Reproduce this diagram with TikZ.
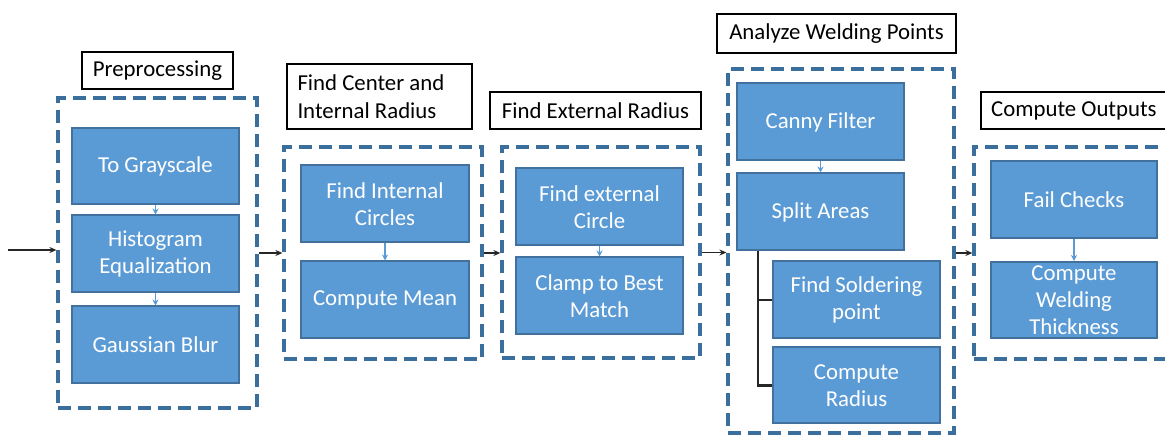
\documentclass[tikz,border=0pt]{standalone}
\usepackage{fontspec}
\setmainfont{Carlito}
\usetikzlibrary{arrows.meta}
\definecolor{boxfill}{HTML}{5B9BD5}
\definecolor{boxline}{HTML}{41719C}
\definecolor{dashline}{HTML}{3A6E9C}
\tikzset{
  blk/.style={draw=boxline, line width=2pt, fill=boxfill, text=white, align=center,
    font=\fontsize{22.8}{27}\selectfont, inner sep=0pt},
  grp/.style={draw=dashline, line width=3.2pt, dash pattern=on 13pt off 7pt},
  lab/.style={draw=black, line width=2.4pt, fill=white, text=black,
    font=\fontsize{22.8}{28}\selectfont, inner sep=0pt},
  inarr/.style={draw=boxfill, line width=1.1pt, -{Stealth[length=6pt,width=6pt]}},
  grarr/.style={draw=black!85, line width=1.4pt, -{Stealth[length=7pt,width=6pt]}},
  tree/.style={draw=black!85, line width=2.4pt},
}
\begin{document}
\begin{tikzpicture}[x=1pt,y=-1pt]
\useasboundingbox (0,0) rectangle (1165,435);
\clip (0,0) rectangle (1165,435);
% Group 1
\node[lab, minimum width=151pt, minimum height=37pt] (lab1) at (157.5,70.5) {Preprocessing};
\node[grp, minimum width=199pt, minimum height=310pt] (g1) at (157.5,253) {};
\node[blk, minimum width=167pt, minimum height=76pt] (gray) at (155.5,166) {To Grayscale};
\node[blk, minimum width=167pt, minimum height=77pt] (hist) at (155.5,254) {Histogram\\Equalization};
\node[blk, minimum width=167pt, minimum height=77pt] (blur) at (155.5,345) {Gaussian Blur};
\draw[inarr] (gray) -- (hist);
\draw[inarr] (hist) -- (blur);
% Group 2
\node[lab, minimum width=185pt, minimum height=65pt, align=flush left, text width=164pt] (lab2) at (379.5,96.5) {Find Center and\\Internal Radius};
\node[grp, minimum width=198pt, minimum height=212pt] (g2) at (383,253) {};
\node[blk, minimum width=168pt, minimum height=77pt] (fic) at (385,204) {Find Internal\\Circles};
\node[blk, minimum width=168pt, minimum height=77pt] (mean) at (385,300) {Compute Mean};
\draw[inarr] (fic) -- (mean);
% Group 3
\node[lab, minimum width=211pt, minimum height=37pt] (lab3) at (595.5,110.5) {Find External Radius};
\node[grp, minimum width=198pt, minimum height=211pt] (g3) at (601,252.5) {};
\node[blk, minimum width=167pt, minimum height=77pt] (fec) at (599.5,207) {Find external\\Circle};
\node[blk, minimum width=167pt, minimum height=77pt] (clamp) at (599.5,296) {Clamp to Best\\Match};
\draw[inarr] (fec) -- (clamp);
% Group 4
\node[lab, minimum width=239pt, minimum height=39pt] (lab4) at (836.5,33.5) {Analyze Welding Points};
\node[grp, minimum width=226pt, minimum height=364pt] (g4) at (841,251) {};
\node[blk, minimum width=167pt, minimum height=77pt] (canny) at (820.5,122) {Canny Filter};
\node[blk, minimum width=167pt, minimum height=77pt] (split) at (820.5,212) {Split Areas};
\node[blk, minimum width=167pt, minimum height=77pt] (sold) at (856.5,300) {Find Soldering\\point};
\node[blk, minimum width=167pt, minimum height=76pt] (rad) at (856.5,385.5) {Compute\\Radius};
\draw[inarr] (canny) -- (split);
\coordinate (t) at (758,250);
\draw[tree] (split.south -| t) -- (t |- rad.west) -- (rad.west);
\draw[tree] (t |- sold.west) -- (sold.west);
% Group 5
\node[lab, minimum width=195pt, minimum height=37pt, align=flush left, text width=175pt, anchor=west] (lab5) at (980,110.5) {Compute Outputs};
\node[grp, minimum width=206pt, minimum height=212pt] (g5) at (1077,253) {};
\node[blk, minimum width=166pt, minimum height=77pt] (fail) at (1074,200) {Fail Checks};
\node[blk, minimum width=166pt, minimum height=76pt] (cwt) at (1074,300) {Compute\\Welding\\Thickness};
\draw[inarr] (fail) -- (cwt);
% Group connectors
\coordinate (in) at (8,250);
\draw[grarr] (in) -- (in -| g1.west);
\draw[grarr] (g1.east) -- (g1.east -| g2.west);
\draw[grarr] (g2.east) -- (g2.east -| g3.west);
\draw[grarr] (g3.east) -- (g3.east -| g4.west);
\draw[grarr] (g1.east -| g4.east) -- (g1.east -| g5.west);
\end{tikzpicture}
\end{document}
